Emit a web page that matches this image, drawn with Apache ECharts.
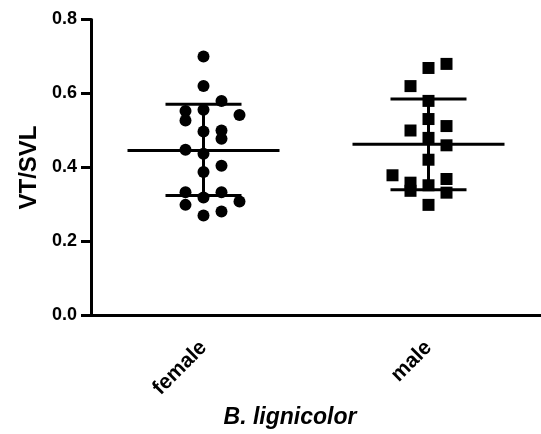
<!DOCTYPE html>
<html>
<head>
<meta charset="utf-8">
<script src="https://cdn.jsdelivr.net/npm/echarts@6/dist/echarts.min.js"></script>
<style>html,body{margin:0;padding:0;background:#fff;overflow:hidden}#c{width:541px;height:434px}</style>
</head>
<body>
<div id="c"></div>
<script>
var categories = ['female', 'male'];
var yTicks = [0.0, 0.2, 0.4, 0.6, 0.8];
// female values and their beeswarm lane (column) index
var femaleValues = [0.70, 0.62, 0.580, 0.553, 0.556, 0.527, 0.542, 0.497, 0.500, 0.478, 0.448, 0.437, 0.405, 0.388, 0.333, 0.333, 0.319, 0.299, 0.308, 0.270, 0.281];
var femaleLanes  = [0, 0, 1, -1, 0, -1, 2, 0, 1, 1, -1, 0, 1, 0, -1, 1, 0, -1, 2, 0, 1];
// male values and lanes
var maleValues = [0.680, 0.669, 0.620, 0.580, 0.531, 0.500, 0.512, 0.480, 0.460, 0.421, 0.379, 0.359, 0.369, 0.337, 0.352, 0.332, 0.299];
var maleLanes  = [1, 0, -1, 0, 0, -1, 1, 0, 1, 0, -2, -1, 1, -1, 0, 1, 0];
// summary: mean and mean ± SD
var means  = [0.446, 0.463];
var sdHigh = [0.571, 0.585];
var sdLow  = [0.324, 0.340];

var FONT = '"Liberation Sans", Arial, Helvetica, sans-serif';
var LANE_W = 0.08;      // lane spacing in category units
var MEAN_HALF = 76;     // px
var SD_HALF = 38;       // px

function pts(values, lanes, ci) {
  return values.map(function (v, i) { return [ci + lanes[i] * LANE_W, v]; });
}
var summaryData = categories.map(function (c, i) { return [i, means[i], sdLow[i], sdHigh[i]]; });

var chart = echarts.init(document.getElementById('c'), null, {renderer: 'canvas'});
chart.setOption({
  animation: false,
  backgroundColor: '#fff',
  grid: {left: 91, right: 0, top: 19.5, bottom: 115.5, containLabel: false},
  xAxis: [{
    type: 'category',
    data: categories,
    boundaryGap: true,
    axisLine: {onZero: false, lineStyle: {color: '#000', width: 3}},
    axisTick: {alignWithLabel: true, length: 10, lineStyle: {color: '#000', width: 3}},
    axisLabel: {rotate: 45, margin: 29, color: '#000', fontSize: 21, fontWeight: 'bold', fontFamily: FONT},
    splitLine: {show: false},
    name: 'B. lignicolor',
    nameLocation: 'middle',
    nameGap: 87,
    nameTextStyle: {color: '#000', fontSize: 23, fontWeight: 'bold', fontStyle: 'italic', fontFamily: FONT, padding: [0, 52, 0, 0]}
  }, {
    type: 'value',
    min: -0.5, max: 1.5,
    show: false
  }],
  yAxis: {
    type: 'value',
    min: 0, max: 0.8, interval: 0.2,
    axisLine: {show: true, onZero: false, lineStyle: {color: '#000', width: 3}},
    axisTick: {show: true, length: 10, lineStyle: {color: '#000', width: 3}},
    axisLabel: {margin: 14, color: '#000', fontSize: 18, fontWeight: 'bold', fontFamily: FONT,
      formatter: function (v) { return v.toFixed(1); }},
    splitLine: {show: false},
    name: 'VT/SVL',
    nameLocation: 'middle',
    nameGap: 49,
    nameTextStyle: {color: '#000', fontSize: 24, fontWeight: 'bold', fontFamily: FONT}
  },
  series: [{
    type: 'scatter',
    xAxisIndex: 1,
    symbol: 'circle',
    symbolSize: 12,
    itemStyle: {color: '#000', opacity: 1},
    data: pts(femaleValues, femaleLanes, 0)
  }, {
    type: 'scatter',
    xAxisIndex: 1,
    symbol: 'rect',
    symbolSize: 12,
    itemStyle: {color: '#000', opacity: 1},
    data: pts(maleValues, maleLanes, 1)
  }, {
    type: 'custom',
    xAxisIndex: 1,
    z: 5,
    data: summaryData,
    renderItem: function (params, api) {
      var x = api.value(0);
      var m = api.coord([x, api.value(1)]);
      var lo = api.coord([x, api.value(2)]);
      var hi = api.coord([x, api.value(3)]);
      var st = {stroke: '#000', lineWidth: 3};
      return {type: 'group', children: [
        {type: 'line', shape: {x1: m[0] - MEAN_HALF, y1: m[1], x2: m[0] + MEAN_HALF, y2: m[1]}, style: st},
        {type: 'line', shape: {x1: lo[0], y1: lo[1], x2: hi[0], y2: hi[1]}, style: st},
        {type: 'line', shape: {x1: lo[0] - SD_HALF, y1: lo[1], x2: lo[0] + SD_HALF, y2: lo[1]}, style: st},
        {type: 'line', shape: {x1: hi[0] - SD_HALF, y1: hi[1], x2: hi[0] + SD_HALF, y2: hi[1]}, style: st}
      ]};
    }
  }]
});
</script>
</body>
</html>
